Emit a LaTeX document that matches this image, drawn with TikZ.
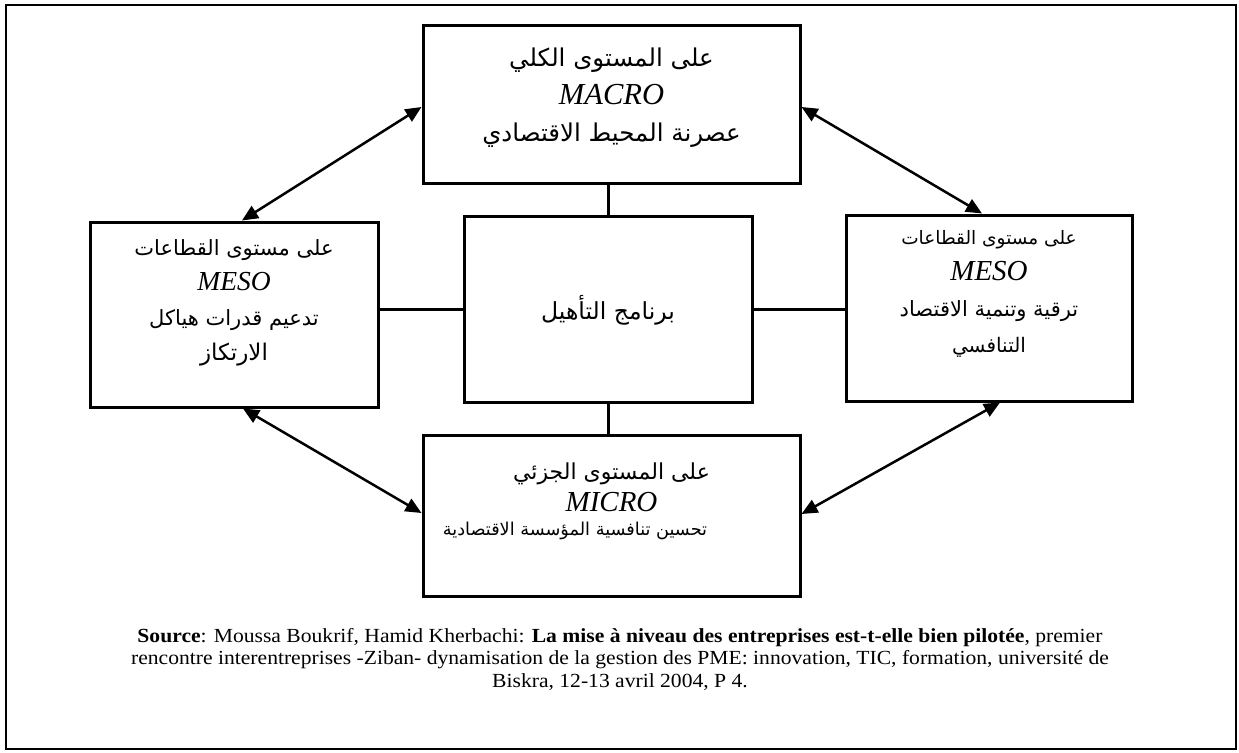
\documentclass[tikz,border=0pt]{standalone}
\usepackage{fontspec}
\setmainfont{Liberation Serif}
\newfontfamily\srcfont[FakeStretch=1.08]{Liberation Serif}
\newfontfamily\arabicfont[Script=Arabic]{DejaVu Sans}
\TeXXeTstate=1
\usetikzlibrary{arrows.meta,positioning}

% arabic font of a given size, latin level name of a given size
\newcommand{\arsize}[1]{\arabicfont\fontsize{#1}{#1}\selectfont}
\newcommand{\levname}[2]{{\fontsize{#1}{#1}\selectfont\textit{#2}}}

\tikzset{
    levelbox/.style={draw, line width=3pt, inner sep=0pt},
    boxtext/.style={align=center, inner sep=0pt, font=\fontsize{26}{37}\selectfont},
    linkarrow/.style={line width=2.5pt, {Triangle[length=16pt,width=14pt]}-{Triangle[length=16pt,width=14pt]}},
    linkline/.style={line width=3pt},
}

\begin{document}
\begin{tikzpicture}[x=1pt, y=-1pt]
                \useasboundingbox (0,0) rectangle (1239,752);
                \draw[line width=2.5pt] (6,5) rectangle (1236,749);

                % boxes
                \node[levelbox, minimum width=377pt, minimum height=157pt] (macro) at (611.5,104.5) {};
                \node[levelbox, minimum width=288pt, minimum height=185pt] (mesoleft) at (234,314.5) {};
                \node[levelbox, minimum width=286pt, minimum height=186pt] (mesoright) at (989,308) {};
                \node[levelbox, minimum width=288pt, minimum height=186pt] (program) at (608,309) {};
                \node[levelbox, minimum width=377pt, minimum height=161pt] (micro) at (611.5,515.5) {};

                % texts
                \node[boxtext, font=\fontsize{26}{37.5}\selectfont] (macrotxt) at (611.5,98)
                    {{\arsize{24.5}\beginR على المستوى الكلي\endR}\\ \levname{30.5}{MACRO}\\ {\arsize{24.5}\beginR عصرنة المحيط الاقتصادي\endR}};
                \node[boxtext, font=\fontsize{25}{35}\selectfont] (mesolefttxt) at (234,303)
                    {{\arsize{21}\beginR على مستوى القطاعات\endR}\\ \levname{27.5}{MESO}\\ {\arsize{21}\beginR تدعيم قدرات هياكل\endR}\\ {\arsize{23}\beginR الارتكاز\endR}};
                \node[boxtext, font=\fontsize{23}{36}\selectfont] (mesorighttxt) at (989,294)
                    {{\arsize{18.5}\beginR على مستوى القطاعات\endR}\\ \levname{29}{MESO}\\ {\arsize{21}\beginR ترقية وتنمية الاقتصاد\endR}\\ {\arsize{20}\beginR التنافسي\endR}};
                \node[boxtext] (programtxt) at (608,310) {{\arsize{23.5}\beginR برنامج التأهيل\endR}};
                \node[boxtext, font=\fontsize{26}{32}\selectfont] (microtxt) at (611.5,487)
                    {{\arsize{22}\beginR على المستوى الجزئي\endR}\\ \levname{29}{MICRO}};
                \node[boxtext] (microsub) at (575,531) {{\arsize{17.7}\beginR تحسين تنافسية المؤسسة الاقتصادية\endR}};

                % links to the program
                \draw[linkline] (macro.south -| program.north) -- (program.north);
                \draw[linkline] (program.south) -- (micro.north -| program.south);
                \draw[linkline] (mesoleft.east |- program.west) -- (program.west);
                \draw[linkline] (program.east) -- (mesoright.west |- program.east);

                % arrows round the program
                \draw[linkarrow] ([yshift=-2.5pt]macro.west) -- ([xshift=8pt]mesoleft.north);
                \draw[linkarrow] ([yshift=-2.5pt]macro.east) -- ([xshift=-7pt]mesoright.north);
                \draw[linkarrow] ([xshift=9pt]mesoleft.south) -- ([yshift=2.5pt]micro.west);
                \draw[linkarrow] ([xshift=11pt]mesoright.south) -- ([yshift=1.5pt]micro.east);

                % source
                \node[align=center, inner sep=0pt, font=\srcfont\fontsize{20}{22.5}\selectfont] (source) at (620,659)
                    {\textbf{Source}: Moussa Boukrif, Hamid Kherbachi: \textbf{La mise à niveau des entreprises est-t-elle bien pilotée}, premier\\
                     rencontre interentreprises -Ziban- dynamisation de la gestion des PME: innovation, TIC, formation, université de\\
                     Biskra, 12-13 avril 2004, P 4.};
            \end{tikzpicture}
\end{document}
